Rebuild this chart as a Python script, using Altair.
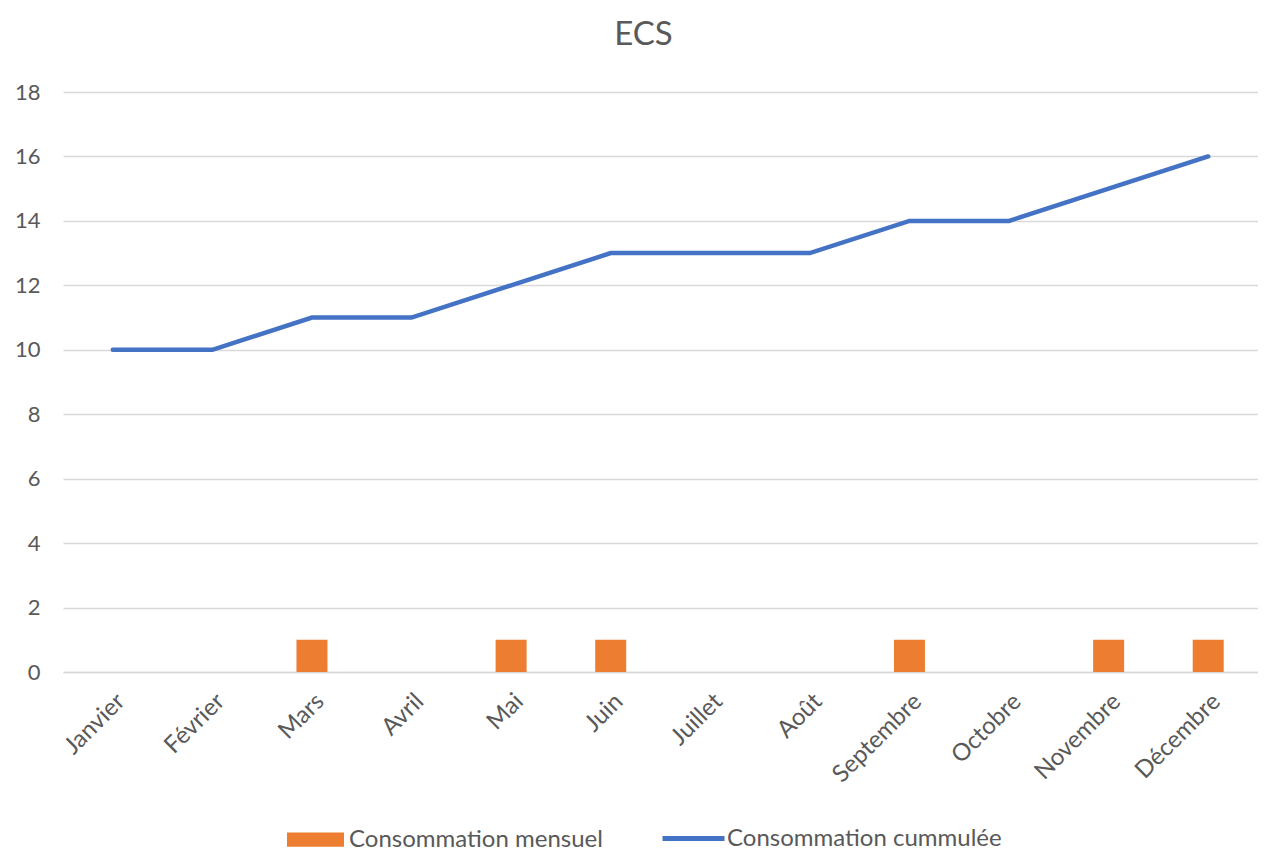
import altair as alt
import pandas as pd

months = ["Janvier", "Février", "Mars", "Avril", "Mai", "Juin", "Juillet",
          "Août", "Septembre", "Octobre", "Novembre", "Décembre"]
mensuel = [0, 0, 1, 0, 1, 1, 0, 0, 1, 0, 1, 1]
cumul = [10, 10, 11, 11, 12, 13, 13, 13, 14, 14, 15, 16]
series_bar = "Consommation mensuel"
series_line = "Consommation cummulée"

df = pd.DataFrame({"mois": months, "mensuel": mensuel, "cumul": cumul,
                   "s_bar": series_bar, "s_line": series_line})

FONT = "Lato"
GREY = "#595959"

x = alt.X("mois:N", sort=months, title=None,
          scale=alt.Scale(paddingInner=0, paddingOuter=0),
          axis=alt.Axis(labelAngle=-45, labelFontSize=24, labelColor=GREY,
                        labelFont=FONT, ticks=False, domainColor="#d9d9d9",
                        domainWidth=1.5, labelPadding=17, grid=False))
yscale = alt.Scale(domain=[0, 18], nice=False)
yaxis = alt.Axis(values=list(range(0, 19, 2)), title=None, domain=False,
                 ticks=False, labelFontSize=22, labelColor=GREY, labelFont=FONT,
                 labelPadding=23, gridColor="#d9d9d9", gridWidth=1.5)

bars = alt.Chart(df).mark_bar(size=31).encode(
    x=x,
    y=alt.Y("mensuel:Q", scale=yscale, axis=yaxis),
    fill=alt.Fill("s_bar:N", scale=alt.Scale(domain=[series_bar], range=["#ED7D31"]),
                  legend=alt.Legend(title=None, orient="none", legendX=224, legendY=719,
                                    symbolType="M-1,-0.25H1V0.25H-1Z", symbolSize=3249,
                                    symbolStrokeWidth=0, labelFontSize=24, labelColor=GREY,
                                    labelFont=FONT, labelOffset=5, labelLimit=500)),
)

line = alt.Chart(df).mark_line(strokeWidth=4.5, strokeCap="round").encode(
    x=x,
    y=alt.Y("cumul:Q", scale=yscale, axis=yaxis),
    stroke=alt.Stroke("s_line:N", scale=alt.Scale(domain=[series_line], range=["#4472C4"]),
                      legend=alt.Legend(title=None, orient="none", legendX=597, legendY=713,
                                        symbolType="stroke", symbolSize=3844,
                                        symbolStrokeWidth=5, symbolStrokeColor="#4472C4",
                                        labelFontSize=24, labelColor=GREY,
                                        labelFont=FONT, labelOffset=0, labelLimit=500)),
)

chart = alt.layer(bars, line).resolve_scale(fill="independent", stroke="independent").properties(
    width=1195, height=580,
    padding={"left": 55, "top": 84, "right": 0, "bottom": 185},
    autosize=alt.AutoSizeParams(type="none"),
    title=alt.Title("ECS", fontSize=33, color=GREY, font=FONT, fontWeight="normal",
                    anchor="middle", offset=29, dx=-17),
).configure_view(stroke=None)

chart.save("out.html", embed_options={"renderer": "svg", "actions": False})
